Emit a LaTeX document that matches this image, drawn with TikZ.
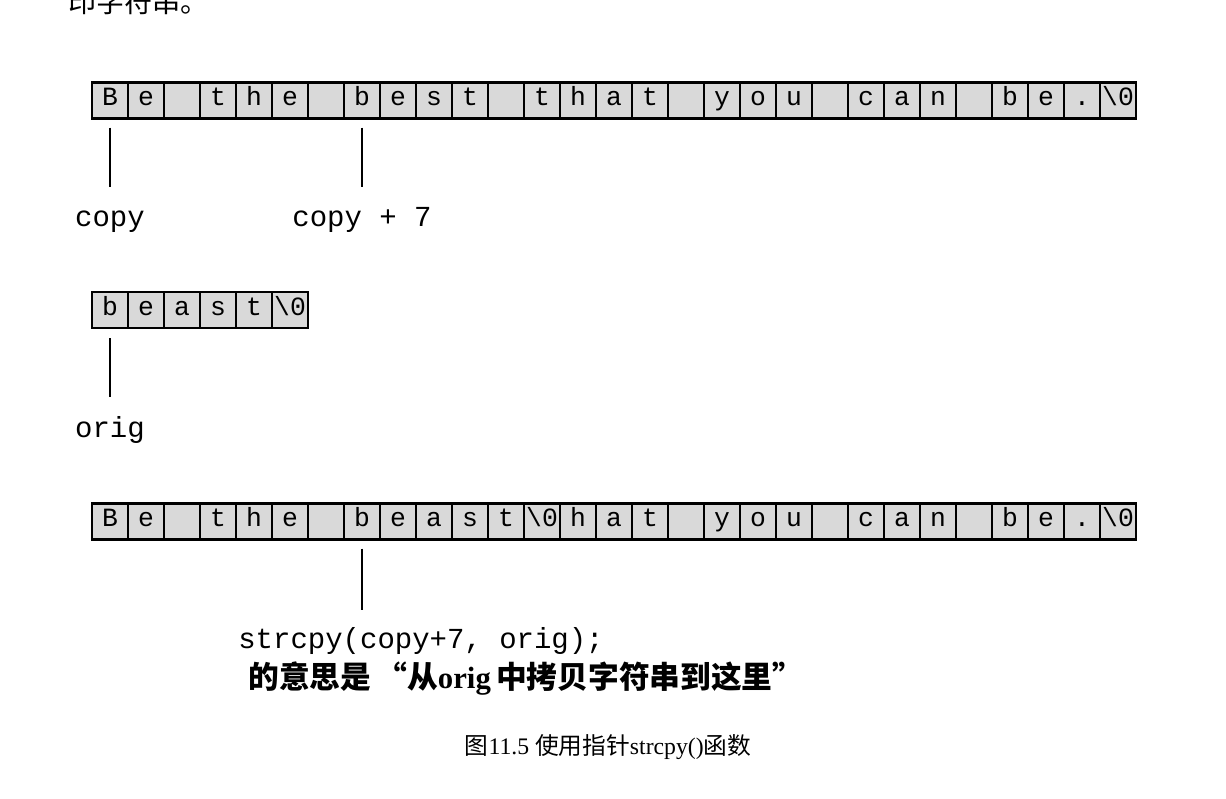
\documentclass[tikz,border=0pt]{standalone}
\usepackage{fontspec}
\setmainfont{Liberation Serif}
\setmonofont{Liberation Mono}
\newfontfamily\cjk{Noto Sans CJK SC}
\usetikzlibrary{positioning}

\definecolor{cellgray}{HTML}{D9D9D9}
\newcommand{\nul}{\textbackslash0}

\tikzset{
  cell/.style={draw=black, line width=1pt, fill=cellgray, outer sep=0pt,
    minimum width=0.72cm, minimum height=0.72cm, inner sep=0pt,
    text height=1.55ex, text depth=0.25ex,
    font=\ttfamily\fontsize{15}{15}\selectfont},
  ptr/.style={line width=0.9pt},
  lbl/.style={anchor=base, inner sep=0pt, font=\ttfamily\fontsize{16.5}{16.5}\selectfont},
}

\begin{document}
\begin{tikzpicture}[x=0.02cm, y=-0.02cm]

  % --- page frame (1226 x 798 px) ---
  \useasboundingbox (0,0) rectangle (1226,798);
  \clip (0,0) rectangle (1226,798);

  % end of the previous paragraph, cut at the top
  \node[anchor=base west, inner sep=0pt, font=\cjk\fontsize{16}{16}\selectfont] (prev) at (68,12) {印字符串。};

  % --- 1. copy: "Be the best that you can be." ---
  \foreach \c [count=\i] in {B,e,{},t,h,e,{},b,e,s,t,{},t,h,a,t,{},y,o,u,{},c,a,n,{},b,e,.,\nul}
    \node[cell] (a\i) at ({110+36*(\i-1)},100.5) {\c};
  \draw[line width=1.4pt] (a1.north west) rectangle (a29.south east);

  \draw[ptr] (a1.south) ++(0,9) -- ++(0,59);
  \draw[ptr] (a8.south) ++(0,9) -- ++(0,59);
  \node[lbl] (pcopy) at (110,226) {copy};
  \node[lbl] (pcopy7) at (362,226) {copy + 7};

  % --- 2. orig: "beast" ---
  \foreach \c [count=\i] in {b,e,a,s,t,\nul}
    \node[cell] (b\i) at ({110+36*(\i-1)},310) {\c};
  \draw[line width=1.4pt] (b1.north west) rectangle (b6.south east);

  \draw[ptr] (b1.south) ++(0,10) -- ++(0,59);
  \node[lbl] (porig) at (110,437) {orig};

  % --- 3. after strcpy(copy+7, orig) ---
  \foreach \c [count=\i] in {B,e,{},t,h,e,{},b,e,a,s,t,\nul,h,a,t,{},y,o,u,{},c,a,n,{},b,e,.,\nul}
    \node[cell] (c\i) at ({110+36*(\i-1)},521.5) {\c};
  \draw[line width=1.4pt] (c1.north west) rectangle (c29.south east);

  \draw[ptr] (c8.south) ++(0,9) -- ++(0,61);
  \node[lbl, anchor=base west] (call) at (238,648) {strcpy(copy+7, orig);};
  \node[anchor=base west, inner sep=0pt, font=\fontsize{17.5}{17.5}\selectfont\bfseries] (note) at (248,688)
    {\cjk 的意思是\,“从\rmfamily orig\,\cjk 中拷贝字符串到这里”};

  % --- 4. caption ---
  \node[anchor=base, inner sep=0pt, font=\fontsize{13.5}{13.5}\selectfont] (caption) at (608,754)
    {\cjk 图\rmfamily 11.5 \cjk 使用指针\rmfamily strcpy()\cjk 函数};

\end{tikzpicture}
\end{document}
